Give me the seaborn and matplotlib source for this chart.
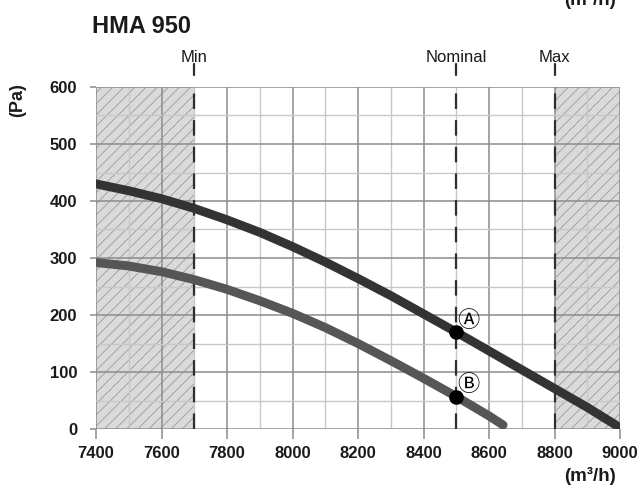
import matplotlib
matplotlib.use("Agg")
import matplotlib.pyplot as plt
import seaborn as sns
import pandas as pd
from matplotlib.lines import Line2D
import matplotlib.transforms as mtransforms

# ---- data ----
flow_a = [7400, 7500, 7600, 7700, 7800, 7900, 8000, 8100, 8200, 8300, 8400, 8500, 8600, 8700, 8800, 8900, 8990]
pres_a = [430, 418, 404, 387, 367, 345, 320, 293, 264, 234, 202, 170, 137, 104, 71, 38, 6]
flow_b = [7400, 7500, 7600, 7700, 7800, 7900, 8000, 8100, 8200, 8300, 8400, 8500, 8600, 8643]
pres_b = [292, 286, 276, 262, 245, 225, 203, 178, 150, 120, 89, 57, 23, 7]
points_x = [8500, 8500]
points_y = [170, 57]
point_labels = ["\u24b6", "\u24b7"]
limit_x = [7700, 8500, 8800]
limit_labels = ["Min", "Nominal", "Max"]
xticks = [7400, 7600, 7800, 8000, 8200, 8400, 8600, 8800, 9000]
yticks = [0, 100, 200, 300, 400, 500, 600]
title = "HMA 950"

sns.set_theme(style="white")
plt.rcParams['font.family'] = ['Liberation Sans', 'DejaVu Sans']
plt.rcParams['hatch.linewidth'] = 0.5
plt.rcParams['hatch.color'] = '#8f8f8f'

fig = plt.figure(figsize=(6.38, 4.88), dpi=100)
ax = fig.add_axes([96/638, 1-429/488, 524/638, 342/488])

ax.set_xlim(7400, 9000)
ax.set_ylim(0, 600)

# shaded out-of-range zones
ax.axvspan(7400, 7700, facecolor='#dadadb', edgecolor='#8f8f8f', hatch='///', linewidth=0, zorder=0)
ax.axvspan(8800, 9000, facecolor='#dadadb', edgecolor='#8f8f8f', hatch='///', linewidth=0, zorder=0)

# grid
ax.set_xticks(xticks)
ax.set_xticks(list(range(7500, 9000, 200)), minor=True)
ax.set_yticks(yticks)
ax.set_yticks(list(range(50, 600, 100)), minor=True)
ax.grid(which='major', color='#8c8c8c', linewidth=1.1, zorder=1)
ax.grid(which='minor', color='#c8c8c8', linewidth=1.0, zorder=1)
ax.set_axisbelow(True)

for s in ax.spines.values():
    s.set_visible(False)

# limit dashed lines
for xv in limit_x:
    ax.axvline(xv, color='#2f2f2f', linewidth=1.6, dashes=(7, 5), zorder=2)

# curves
df_a = pd.DataFrame({'flow': flow_a, 'pres': pres_a})
df_b = pd.DataFrame({'flow': flow_b, 'pres': pres_b})
sns.lineplot(data=df_a, x='flow', y='pres', ax=ax, color='#333333', linewidth=6.4,
             solid_capstyle='round', solid_joinstyle='round', zorder=3)
sns.lineplot(data=df_b, x='flow', y='pres', ax=ax, color='#555658', linewidth=6.4,
             solid_capstyle='round', solid_joinstyle='round', zorder=3)

# points
sns.scatterplot(x=points_x, y=points_y, ax=ax, color='black', s=110, zorder=5, linewidth=0)
for px, py, lab in zip(points_x, points_y, point_labels):
    ax.text(px + 38, py + 21, lab, fontsize=16, family=['Noto Sans CJK JP', 'DejaVu Sans'],
            ha='center', va='center', color='black', zorder=6)

# ticks
ax.tick_params(axis='x', which='major', length=7, width=1.1, color='#8c8c8c',
               direction='out', bottom=True, labelsize=12, pad=5)
ax.tick_params(axis='y', which='major', length=4.5, width=1.1, color='#8c8c8c',
               direction='out', left=True, labelsize=12, pad=9)
ax.tick_params(axis='both', which='minor', length=0)
for lab in ax.get_xticklabels() + ax.get_yticklabels():
    lab.set_fontweight('bold')
    lab.set_color('#1a1a1a')
ax.set_xlabel('')
ax.set_ylabel('')

# limit labels above plot
trans = mtransforms.blended_transform_factory(ax.transData, ax.transAxes)
for xv, lab in zip(limit_x, limit_labels):
    ax.add_line(Line2D([xv, xv], [1.035, 1.067], transform=trans, color='#2f2f2f',
                       linewidth=1.6, clip_on=False))
    ax.text(xv, 1.073, lab, transform=trans, ha='center', va='baseline', fontsize=12,
            color='#1a1a1a')

# titles and unit labels
fig.text(92/638, 1-33/488, title, fontsize=17, fontweight='bold', ha='left', va='baseline',
         color='#1a1a1a')
fig.text(18/638, 1-100/488, '(Pa)', rotation=90, fontsize=13, fontweight='bold',
         ha='center', va='center', color='#1a1a1a')
fig.text(616/638, 1-485/488, '(m\u00b3/h)', fontsize=13.5, fontweight='bold',
         ha='right', va='bottom', color='#1a1a1a')
fig.text(616/638, 1-9/488, '(m\u00b3/h)', fontsize=13.5, fontweight='bold',
         ha='right', va='bottom', color='#1a1a1a')

fig.savefig('out.png', dpi=100)
